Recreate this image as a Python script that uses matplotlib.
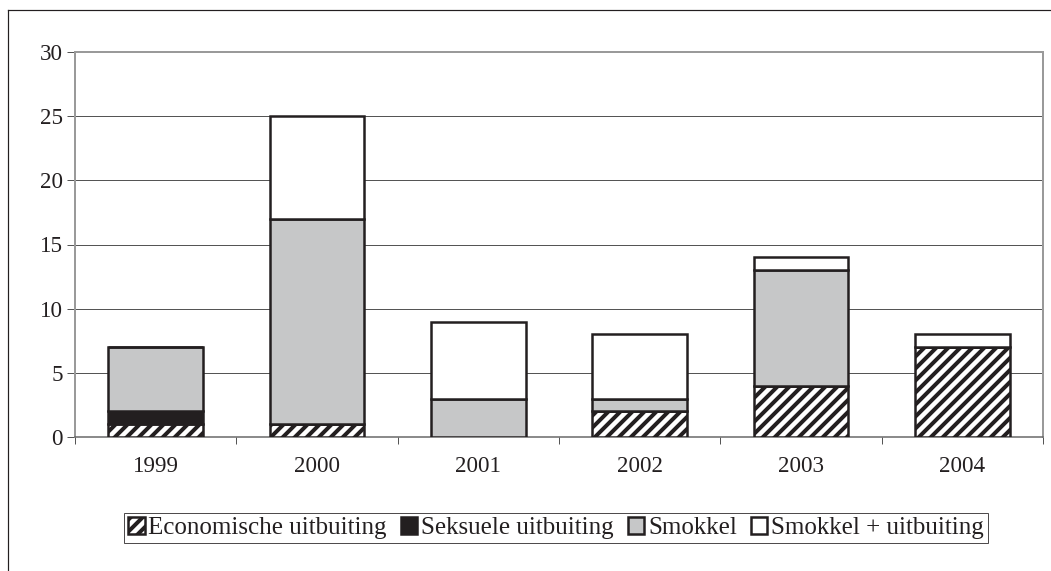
import numpy as np
import matplotlib
matplotlib.use("Agg")
import matplotlib.pyplot as plt
from matplotlib.lines import Line2D

years = ["1999", "2000", "2001", "2002", "2003", "2004"]
economische = [1, 1, 0, 2, 4, 7]
seksuele = [1, 0, 0, 0, 0, 0]
smokkel = [5, 16, 3, 1, 9, 0]
smokkel_uit = [0, 8, 6, 5, 1, 1]

series_names = ["Economische uitbuiting", "Seksuele uitbuiting", "Smokkel", "Smokkel + uitbuiting"]

ink = "#231f20"
plt.rcParams["font.family"] = ["Liberation Serif", "DejaVu Serif"]
plt.rcParams["hatch.linewidth"] = 4.0
plt.rcParams["hatch.color"] = ink

dpi = 72
fig = plt.figure(figsize=(1051 / dpi, 571 / dpi), dpi=dpi)
ax = fig.add_axes([75 / 1051, 1 - 437 / 571, (1043 - 75) / 1051, (437 - 52) / 571])

x = np.arange(len(years))
w = 0.585
styles = [
    dict(facecolor="white", hatch="//"),
    dict(facecolor=ink),
    dict(facecolor="#c6c7c8"),
    dict(facecolor="white"),
]
bottom = np.zeros(len(years))
handles = []
for vals, st, name in zip([economische, seksuele, smokkel, smokkel_uit], styles, series_names):
    vals = np.array(vals, dtype=float)
    bars = ax.bar(x, vals, w, bottom=bottom, edgecolor=ink, linewidth=2.5, zorder=3, label=name, **st)
    handles.append(bars)
    bottom += vals

ax.set_xlim(-0.5, 5.5)
ax.set_ylim(0, 30)
ax.set_yticks(range(0, 31, 5))
ax.yaxis.grid(True, color="#555555", linewidth=1.0, zorder=0)
ax.set_axisbelow(True)

ax.set_xticks(x)
ax.set_xticklabels(years)
ax.set_xticks(np.arange(-0.5, 6, 1), minor=True)
ax.tick_params(axis="x", which="major", length=0, pad=19, labelsize=23, colors=ink)
ax.tick_params(axis="x", which="minor", length=7, width=1, color="#555555", direction="out")
ax.tick_params(axis="y", length=8, width=1, color="#555555", pad=4, labelsize=23, labelcolor=ink)

for side in ["left", "top", "right"]:
    ax.spines[side].set_color("#9a9a9a")
    ax.spines[side].set_linewidth(2)
ax.spines["bottom"].set_color("#666666")
ax.spines["bottom"].set_linewidth(1.5)

leg = fig.legend(handles=handles, labels=series_names, loc="center",
                 bbox_to_anchor=(556 / 1051, 1 - 528 / 571), ncol=4, fontsize=25,
                 frameon=True, fancybox=False, edgecolor=ink, handlelength=0.66,
                 handleheight=0.66, handletextpad=0.16, columnspacing=0.55,
                 borderpad=0.15, borderaxespad=0, labelcolor=ink)
leg.get_frame().set_linewidth(1)

# outer chart frame
fig.add_artist(Line2D([8 / 1051, 8 / 1051], [0, 1 - 10 / 571], color=ink, linewidth=1.2))
fig.add_artist(Line2D([8 / 1051, 1], [1 - 10 / 571, 1 - 10 / 571], color=ink, linewidth=1.2))

fig.savefig("out.png", dpi=dpi)
